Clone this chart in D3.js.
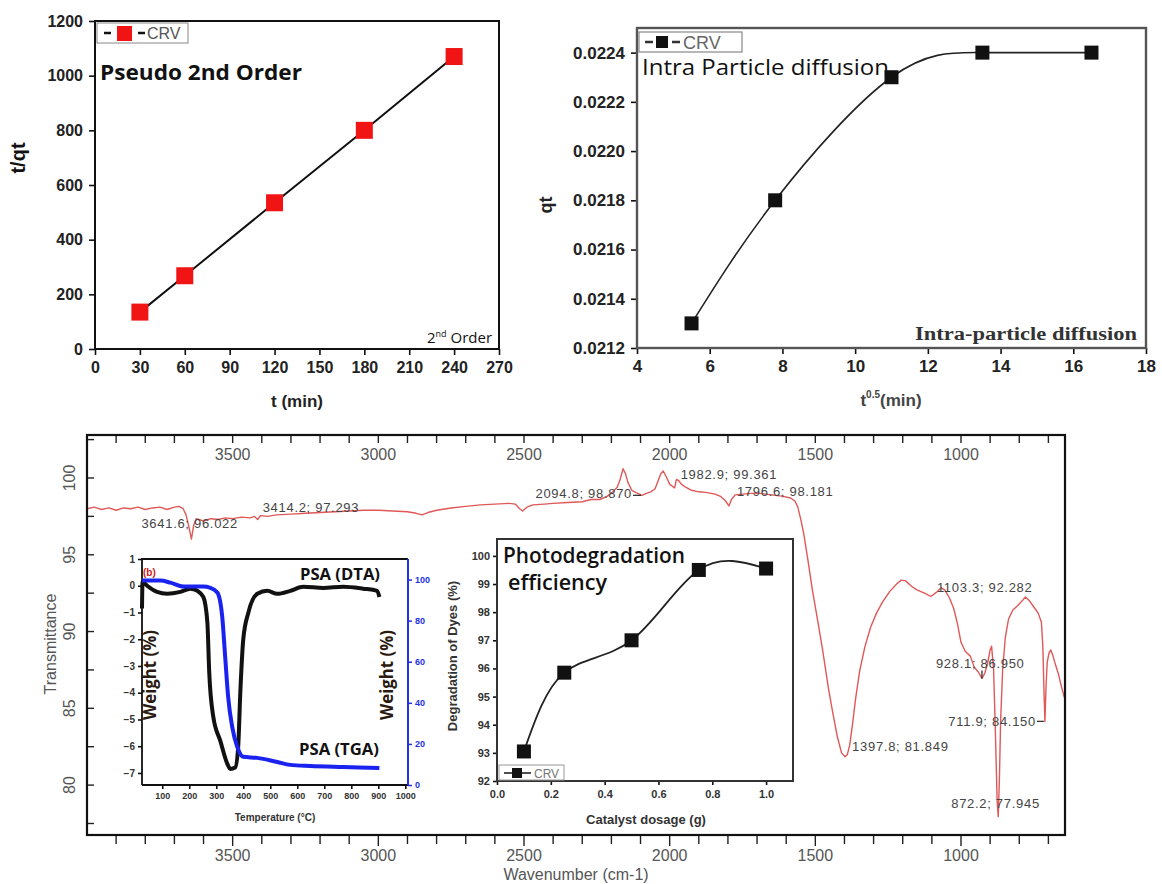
<!DOCTYPE html>
<html>
<head>
<meta charset="utf-8">
<script src="https://cdn.jsdelivr.net/npm/d3@7/dist/d3.min.js"></script>
<style>
  html, body { margin: 0; padding: 0; background: #fff; }
  svg { display: block; }
</style>
</head>
<body>
<svg id="fig" width="1162" height="884"></svg>
<script>
// ---------- data ----------
// Pseudo second-order kinetics
const kinTime = [30, 60, 120, 180, 240];
const kinTq = [135, 268, 535, 800, 1070];
const kinXTicks = [0, 30, 60, 90, 120, 150, 180, 210, 240, 270];
const kinYTicks = [0, 200, 400, 600, 800, 1000, 1200];

// Intra-particle diffusion
const ipdRootT = [5.5, 7.8, 11.0, 13.5, 16.5];
const ipdQt = [0.0213, 0.0218, 0.0223, 0.0224, 0.0224];
const ipdXTicks = [4, 6, 8, 10, 12, 14, 16, 18];
const ipdYTicks = [0.0212, 0.0214, 0.0216, 0.0218, 0.0220, 0.0222, 0.0224];

// FTIR spectrum (wavenumber cm-1, transmittance %)
const ftirWave = [4000,3975,3950,3925,3900,3875,3850,3825,3800,3775,3750,3725,3700,3685,3670,3660,3650,3641.6,3634,3625,3600,3575,3550,3525,3500,3470,3440,3425,3414.2,3405,3380,3350,3300,3250,3200,3150,3100,3050,3000,2950,2900,2870,2850,2830,2800,2750,2700,2650,2600,2550,2530,2515,2505,2490,2470,2430,2400,2350,2300,2270,2240,2215,2195,2180,2170,2160,2152,2143,2130,2115,2094.8,2080,2065,2050,2040,2030,2022,2012,2000,1990,1982.9,1977,1970,1960,1945,1925,1900,1870,1845,1825,1810,1796.6,1788,1775,1750,1720,1690,1650,1610,1585,1570,1560,1550,1540,1525,1510,1490,1475,1455,1440,1425,1410,1397.8,1390,1382,1372,1362,1348,1330,1310,1290,1270,1245,1221,1205,1190,1170,1150,1125,1103.3,1085,1068,1055,1040,1025,1012,1000,985,968,955,940,928.1,918,908,900,895,888,882,876,872.2,868,864,857,848,837,822,805,790,779,765,750,735,724,719,715,711.9,708,704,698,692,684,675,665,655,645];
const ftirTrans = [98.0,98.1,97.95,98.05,97.9,98.05,98.0,98.1,97.95,98.05,98.1,97.95,98.1,98.15,98.0,97.6,96.8,96.022,96.9,97.35,97.2,97.35,97.3,97.4,97.35,97.45,97.4,97.5,97.293,97.55,97.5,97.6,97.65,97.7,97.75,97.8,97.85,97.9,97.9,97.85,97.8,97.7,97.6,97.75,97.9,98.05,98.15,98.25,98.3,98.35,98.3,98.0,97.85,98.1,98.25,98.3,98.35,98.4,98.45,98.6,98.6,98.8,99.1,99.4,99.9,100.6,100.3,99.7,99.2,99.05,98.87,99.0,99.1,99.3,99.8,100.3,100.45,100.1,99.6,99.45,99.361,99.9,99.85,99.6,99.4,99.2,99.1,99.05,98.95,98.8,98.55,98.181,98.6,98.9,98.95,99.0,99.0,98.9,98.8,98.7,98.5,98.1,97.3,96.4,94.6,92.7,90.5,88.8,86.3,84.7,83.2,82.1,81.849,82.0,82.6,84.0,85.6,87.4,89.0,90.3,91.2,91.9,92.6,93.1,93.35,93.3,92.95,92.7,92.5,92.282,92.55,92.85,92.7,92.2,91.5,90.5,89.3,88.7,88.4,87.7,87.35,86.95,87.3,88.0,88.8,89.05,87.5,83.5,79.0,77.945,80.5,84.2,87.5,89.6,90.8,91.4,91.7,92.0,92.25,92.0,91.6,91.2,90.6,89.0,86.0,84.15,86.5,88.0,88.6,88.8,88.4,87.8,87.2,86.4,85.7];
const ftirPeakWave = [3641.6, 3414.2, 2094.8, 1982.9, 1796.6, 1397.8, 1103.3, 928.1, 711.9, 872.2];
const ftirPeakTrans = [96.022, 97.293, 98.870, 99.361, 98.181, 81.849, 92.282, 86.950, 84.150, 77.945];
const ftirXLabels = [3500, 3000, 2500, 2000, 1500, 1000];
const ftirYLabels = [80, 85, 90, 95, 100];

// Thermal analysis of PSA
const dtaTemp = [25, 27, 44, 81, 118, 167, 204, 230, 252, 267, 274, 289, 315, 341, 352, 370, 381, 389, 400, 419, 452, 489, 526, 574, 622, 696, 770, 844, 896, 904];
const dtaSignal = [-0.85, 0.15, 0.0, -0.23, -0.3, -0.23, -0.11, -0.19, -0.42, -1.36, -3.25, -4.9, -5.8, -6.66, -6.85, -6.8, -6.05, -4.0, -2.0, -1.0, -0.3, -0.19, -0.3, -0.19, -0.04, -0.08, -0.04, -0.11, -0.19, -0.42];
const tgaTemp = [25, 93, 130, 178, 252, 278, 304, 322, 333, 344, 359, 378, 400, 452, 526, 574, 648, 770, 904];
const tgaWeight = [99.5, 99.5, 98.5, 96.6, 96.6, 96.0, 93.7, 82.0, 62.4, 42.9, 28.3, 18.5, 13.7, 13.2, 11.2, 9.8, 9.3, 8.8, 8.3];
const thermTempTicks = [100, 200, 300, 400, 500, 600, 700, 800, 900, 1000];
const dtaTicks = [1, 0, -1, -2, -3, -4, -5, -6, -7];
const tgaTicks = [0, 20, 40, 60, 80, 100];

// Photodegradation vs catalyst dosage
const dosage = [0.1, 0.25, 0.5, 0.75, 1.0];
const degradation = [93.05, 95.85, 97.0, 99.5, 99.55];
const dosageTicks = [0.0, 0.2, 0.4, 0.6, 0.8, 1.0];
const degTicks = [92, 93, 94, 95, 96, 97, 98, 99, 100];

// ---------- styling ----------
const ARIAL = "'Liberation Sans', Arial, Helvetica, sans-serif";
const CALIBRI = "'Open Sans', Lato, sans-serif";
const SERIF = "'Liberation Serif', 'DejaVu Serif', serif";

const svg = d3.select('#fig');

function frame(g, b, stroke, width) {
  g.append('rect')
    .attr('x', b.x0).attr('y', b.y0)
    .attr('width', b.x1 - b.x0).attr('height', b.y1 - b.y0)
    .attr('fill', 'none').attr('stroke', stroke).attr('stroke-width', width);
}

function styleAxis(sel, font, size, weight, color) {
  sel.select('.domain').remove();
  sel.selectAll('.tick line').attr('stroke', '#111').attr('stroke-width', 1.6);
  sel.selectAll('.tick text')
    .attr('font-family', font).attr('font-size', size)
    .attr('font-weight', weight).attr('fill', color);
}

// ---------- FTIR spectrum (background panel) ----------
(function ftirPanel() {
  const b = { x0: 87, x1: 1065, y0: 435, y1: 835 };
  const g = svg.append('g');
  const x = d3.scaleLinear().domain([4000, 643]).range([b.x0, b.x1]);
  const y = d3.scaleLinear().domain([76.75, 102.8]).range([b.y1, b.y0]);

  const minor = d3.range(700, 4000, 100);
  // top ticks point into the plot, bottom ticks point out
  g.selectAll('.tt').data(minor).enter().append('line')
    .attr('x1', d => x(d)).attr('x2', d => x(d))
    .attr('y1', b.y0).attr('y2', b.y0 + 8)
    .attr('stroke', '#222').attr('stroke-width', 1.4);
  g.selectAll('.bt').data(minor).enter().append('line')
    .attr('x1', d => x(d)).attr('x2', d => x(d))
    .attr('y1', b.y1).attr('y2', d => b.y1 + (ftirXLabels.includes(d) ? 11 : 9))
    .attr('stroke', '#222').attr('stroke-width', 1.4);
  const yMinor = d3.range(77.5, 102.6, 2.5);
  g.selectAll('.lt').data(yMinor).enter().append('line')
    .attr('x1', b.x0).attr('x2', b.x0 + 7)
    .attr('y1', d => y(d)).attr('y2', d => y(d))
    .attr('stroke', '#222').attr('stroke-width', 1.4);

  const lblStyle = s => s.attr('font-family', ARIAL).attr('font-size', 16).attr('fill', '#555');
  g.selectAll('.tl').data(ftirXLabels).enter().append('text')
    .attr('x', d => x(d)).attr('y', 460).attr('text-anchor', 'middle')
    .text(d => d).call(lblStyle);
  g.selectAll('.bl').data(ftirXLabels).enter().append('text')
    .attr('x', d => x(d)).attr('y', 861).attr('text-anchor', 'middle')
    .text(d => d).call(lblStyle);
  g.selectAll('.yl').data(ftirYLabels).enter().append('text')
    .attr('transform', d => `translate(75,${y(d)}) rotate(-90)`)
    .attr('text-anchor', 'middle').text(d => d).call(lblStyle);

  g.append('text').attr('x', 576).attr('y', 880).attr('text-anchor', 'middle')
    .text('Wavenumber (cm-1)').call(lblStyle);
  g.append('text').attr('transform', `translate(56,644) rotate(-90)`)
    .attr('text-anchor', 'middle').text('Transmittance').call(lblStyle);

  const pts = ftirWave.map((w, i) => [w, ftirTrans[i]]);
  g.append('path').datum(pts)
    .attr('d', d3.line().x(d => x(d[0])).y(d => y(d[1])))
    .attr('fill', 'none').attr('stroke', '#e05858').attr('stroke-width', 1.4)
    .attr('stroke-linejoin', 'round');

  // peak labels: offset from the peak point, anchor, optional leader dash
  const peakLayout = [
    { dx: -50, dy: -11, anchor: 'start' },
    { dx: 5, dy: -8, anchor: 'start' },
    { dx: -10, dy: 3, anchor: 'end', dash: true },
    { dx: 6, dy: -9, anchor: 'start' },
    { dx: 8, dy: -10, anchor: 'start' },
    { dx: 7, dy: -6, anchor: 'start' },
    { dx: 6, dy: -5, anchor: 'start' },
    { dx: -46, dy: -10, anchor: 'start', tick: true },
    { dx: -9, dy: 5, anchor: 'end', dash: true },
    { dx: -47, dy: -9, anchor: 'start' }
  ];
  ftirPeakWave.forEach((w, i) => {
    const px = x(w), py = y(ftirPeakTrans[i]), L = peakLayout[i];
    g.append('text').attr('x', px + L.dx).attr('y', py + L.dy)
      .attr('text-anchor', L.anchor)
      .attr('font-family', ARIAL).attr('font-size', 13).attr('letter-spacing', 0.7)
      .attr('fill', '#444').text(`${w.toFixed(1)}; ${ftirPeakTrans[i].toFixed(3)}`);
    if (L.dash) {
      g.append('line').attr('x1', px + L.dx + 1).attr('x2', px - 1)
        .attr('y1', py).attr('y2', py).attr('stroke', '#333').attr('stroke-width', 1.3);
    }
    if (L.tick) {
      g.append('line').attr('x1', px).attr('x2', px)
        .attr('y1', py - 8).attr('y2', py).attr('stroke', '#333').attr('stroke-width', 1.3);
    }
  });

  frame(g, b, '#111', 2.2);
})();

// ---------- Pseudo second order ----------
(function kineticsPanel() {
  const b = { x0: 95, x1: 499, y0: 21, y1: 349 };
  const g = svg.append('g');
  const x = d3.scaleLinear().domain([0, 270]).range([b.x0, b.x1]);
  const y = d3.scaleLinear().domain([0, 1200]).range([b.y1, b.y0]);

  g.append('g').attr('transform', `translate(0,${b.y1})`)
    .call(d3.axisBottom(x).tickValues(kinXTicks).tickFormat(d3.format('d')).tickSize(6).tickPadding(7))
    .call(s => styleAxis(s, ARIAL, 16, 'bold', '#222'));
  g.append('g').attr('transform', `translate(${b.x0},0)`)
    .call(d3.axisLeft(y).tickValues(kinYTicks).tickFormat(d3.format('d')).tickSize(6).tickPadding(6))
    .call(s => styleAxis(s, ARIAL, 16, 'bold', '#222'));
  frame(g, b, '#111', 2);

  const pts = kinTime.map((t, i) => [t, kinTq[i]]);
  g.append('path').datum(pts)
    .attr('d', d3.line().x(d => x(d[0])).y(d => y(d[1])))
    .attr('fill', 'none').attr('stroke', '#111').attr('stroke-width', 2);
  g.selectAll('.m').data(pts).enter().append('rect')
    .attr('x', d => x(d[0]) - 8.5).attr('y', d => y(d[1]) - 8.5)
    .attr('width', 17).attr('height', 17).attr('fill', '#f01414');

  g.append('text').attr('transform', 'translate(25,158) rotate(-90)')
    .attr('text-anchor', 'middle').attr('font-family', ARIAL)
    .attr('font-size', 20).attr('font-weight', 'bold').attr('fill', '#111').text('t/qt');
  g.append('text').attr('x', 297).attr('y', 407).attr('text-anchor', 'middle')
    .attr('font-family', ARIAL).attr('font-size', 17).attr('font-weight', 'bold')
    .attr('fill', '#222').text('t (min)');

  // legend
  g.append('rect').attr('x', 97).attr('y', 23).attr('width', 91).attr('height', 20)
    .attr('fill', '#fff').attr('stroke', '#888').attr('stroke-width', 1);
  g.append('line').attr('x1', 104).attr('x2', 111).attr('y1', 33).attr('y2', 33)
    .attr('stroke', '#111').attr('stroke-width', 2.5);
  g.append('rect').attr('x', 117).attr('y', 26).attr('width', 15).attr('height', 15).attr('fill', '#f01414');
  g.append('line').attr('x1', 138).attr('x2', 145).attr('y1', 33).attr('y2', 33)
    .attr('stroke', '#111').attr('stroke-width', 2.5);
  g.append('text').attr('x', 147).attr('y', 39).attr('font-family', ARIAL)
    .attr('font-size', 16).attr('fill', '#555').text('CRV');

  g.append('text').attr('x', 100).attr('y', 80).attr('font-family', CALIBRI)
    .attr('font-size', 22).attr('font-weight', 'bold').attr('fill', '#111')
    .attr('textLength', 202).attr('lengthAdjust', 'spacingAndGlyphs').text('Pseudo 2nd Order');
  const o = g.append('text').attr('x', 427).attr('y', 343).attr('font-family', CALIBRI)
    .attr('font-size', 15).attr('fill', '#111');
  o.append('tspan').text('2');
  o.append('tspan').attr('font-size', 9).attr('dy', -6).text('nd');
  o.append('tspan').attr('dy', 6).text(' Order');
})();

// ---------- Intra-particle diffusion ----------
(function diffusionPanel() {
  const b = { x0: 637, x1: 1146, y0: 28, y1: 348 };
  const g = svg.append('g');
  const x = d3.scaleLinear().domain([4, 18]).range([b.x0, b.x1]);
  const y = d3.scaleLinear().domain([0.0212, 0.02250]).range([b.y1, b.y0]);

  g.append('g').attr('transform', `translate(0,${b.y1})`)
    .call(d3.axisBottom(x).tickValues(ipdXTicks).tickSize(6).tickPadding(6))
    .call(s => styleAxis(s, ARIAL, 17, 'bold', '#222'));
  g.append('g').attr('transform', `translate(${b.x0},0)`)
    .call(d3.axisLeft(y).tickValues(ipdYTicks).tickFormat(d3.format('.4f')).tickSize(6).tickPadding(6))
    .call(s => styleAxis(s, ARIAL, 17, 'bold', '#222'));
  frame(g, b, '#555', 2.4);

  const pts = ipdRootT.map((t, i) => [t, ipdQt[i]]);
  g.append('path').datum(pts)
    .attr('d', d3.line().curve(d3.curveNatural).x(d => x(d[0])).y(d => y(d[1])))
    .attr('fill', 'none').attr('stroke', '#222').attr('stroke-width', 1.6);
  g.selectAll('.m').data(pts).enter().append('rect')
    .attr('x', d => x(d[0]) - 7).attr('y', d => y(d[1]) - 7)
    .attr('width', 14).attr('height', 14).attr('fill', '#111');

  g.append('text').attr('transform', 'translate(552,205) rotate(-90)')
    .attr('text-anchor', 'middle').attr('font-family', ARIAL)
    .attr('font-size', 18).attr('font-weight', 'bold').attr('fill', '#222').text('qt');
  const xl = g.append('text').attr('x', 891).attr('y', 406).attr('text-anchor', 'middle')
    .attr('font-family', ARIAL).attr('font-size', 17).attr('font-weight', 'bold').attr('fill', '#444');
  xl.append('tspan').text('t');
  xl.append('tspan').attr('font-size', 10).attr('dy', -8).text('0.5');
  xl.append('tspan').attr('dy', 8).text('(min)');

  // legend
  g.append('rect').attr('x', 639).attr('y', 32).attr('width', 103).attr('height', 20)
    .attr('fill', '#fff').attr('stroke', '#888').attr('stroke-width', 1.2);
  g.append('line').attr('x1', 645).attr('x2', 653).attr('y1', 42).attr('y2', 42)
    .attr('stroke', '#333').attr('stroke-width', 2.5);
  g.append('rect').attr('x', 656).attr('y', 36).attr('width', 12).attr('height', 12).attr('fill', '#111');
  g.append('line').attr('x1', 672).attr('x2', 680).attr('y1', 42).attr('y2', 42)
    .attr('stroke', '#333').attr('stroke-width', 2.5);
  g.append('text').attr('x', 683).attr('y', 49).attr('font-family', ARIAL)
    .attr('font-size', 18).attr('fill', '#666').text('CRV');

  g.append('text').attr('x', 642).attr('y', 75).attr('font-family', CALIBRI)
    .attr('font-size', 22).attr('font-weight', 500).attr('fill', '#111')
    .attr('textLength', 247).attr('lengthAdjust', 'spacingAndGlyphs')
    .text('Intra Particle diffusion');
  g.append('text').attr('x', 915).attr('y', 340).attr('font-family', SERIF)
    .attr('font-size', 18).attr('font-weight', 'bold').attr('fill', '#333')
    .attr('textLength', 222).attr('lengthAdjust', 'spacingAndGlyphs').text('Intra-particle diffusion');
})();

// ---------- DTA / TGA inset ----------
(function thermalInset() {
  const b = { x0: 142, x1: 408, y0: 559, y1: 785 };
  const g = svg.append('g');
  g.append('rect').attr('x', b.x0).attr('y', b.y0).attr('width', b.x1 - b.x0)
    .attr('height', b.y1 - b.y0).attr('fill', '#fff');
  const x = d3.scaleLinear().domain([25, 1010]).range([b.x0, b.x1]);
  const yL = d3.scaleLinear().domain([-7.45, 1]).range([b.y1, b.y0]);
  const yR = d3.scaleLinear().domain([0, 110]).range([b.y1, b.y0]);

  g.append('g').attr('transform', `translate(0,${b.y1})`)
    .call(d3.axisBottom(x).tickValues(thermTempTicks).tickFormat(d3.format('d')).tickSize(4).tickPadding(4))
    .call(s => styleAxis(s, ARIAL, 9, 'bold', '#333'));
  g.append('g').attr('transform', `translate(${b.x0},0)`)
    .call(d3.axisLeft(yL).tickValues(dtaTicks).tickFormat(d3.format('d')).tickSize(4).tickPadding(3))
    .call(s => styleAxis(s, ARIAL, 10, 'bold', '#333'));
  const ra = g.append('g').attr('transform', `translate(${b.x1},0)`)
    .call(d3.axisRight(yR).tickValues(tgaTicks).tickSize(4).tickPadding(3));
  ra.select('.domain').remove();
  ra.selectAll('.tick line').attr('stroke', '#2430e8').attr('stroke-width', 1.5);
  ra.selectAll('.tick text').attr('font-family', ARIAL).attr('font-size', 9)
    .attr('font-weight', 'bold').attr('fill', '#2430e8');

  g.append('path').attr('d', `M${b.x0},${b.y1}V${b.y0}H${b.x1}M${b.x0},${b.y1}H${b.x1}`)
    .attr('fill', 'none').attr('stroke', '#111').attr('stroke-width', 1.8);
  g.append('line').attr('x1', b.x1).attr('x2', b.x1).attr('y1', b.y0).attr('y2', b.y1)
    .attr('stroke', '#2430e8').attr('stroke-width', 2);

  g.append('path').datum(dtaTemp.map((t, i) => [t, dtaSignal[i]]))
    .attr('d', d3.line().curve(d3.curveMonotoneX).x(d => x(d[0])).y(d => yL(d[1])))
    .attr('fill', 'none').attr('stroke', '#111').attr('stroke-width', 4).attr('stroke-linejoin', 'round');
  g.append('path').datum(tgaTemp.map((t, i) => [t, tgaWeight[i]]))
    .attr('d', d3.line().curve(d3.curveMonotoneX).x(d => x(d[0])).y(d => yR(d[1])))
    .attr('fill', 'none').attr('stroke', '#1a22f0').attr('stroke-width', 4).attr('stroke-linejoin', 'round');

  const lab = (t, xx, yy) => g.append('text').attr('x', xx).attr('y', yy)
    .attr('font-family', CALIBRI).attr('font-size', 16).attr('font-weight', 'bold')
    .attr('fill', '#111').attr('textLength', 80).attr('lengthAdjust', 'spacingAndGlyphs').text(t);
  lab('PSA (DTA)', 300, 580);
  lab('PSA (TGA)', 299, 755);
  [156, 393].forEach(cx => g.append('text')
    .attr('transform', `translate(${cx},675) rotate(-90)`).attr('text-anchor', 'middle')
    .attr('font-family', CALIBRI).attr('font-size', 17).attr('font-weight', 'bold')
    .attr('fill', '#2a1a10').attr('textLength', 90).attr('lengthAdjust', 'spacingAndGlyphs').text('Weight (%)'));
  g.append('text').attr('x', 143).attr('y', 576).attr('font-family', ARIAL)
    .attr('font-size', 10).attr('font-weight', 'bold').attr('fill', '#d02020').text('(b)');
  g.append('text').attr('x', 275).attr('y', 821).attr('text-anchor', 'middle')
    .attr('font-family', ARIAL).attr('font-size', 10).attr('font-weight', 'bold')
    .attr('fill', '#333').text('Temperature (°C)');
})();

// ---------- Photodegradation inset ----------
(function photoInset() {
  const b = { x0: 497, x1: 793, y0: 539, y1: 781 };
  const g = svg.append('g');
  g.append('rect').attr('x', b.x0).attr('y', b.y0).attr('width', b.x1 - b.x0)
    .attr('height', b.y1 - b.y0).attr('fill', '#fff');
  const x = d3.scaleLinear().domain([0, 1.1]).range([b.x0, b.x1]);
  const y = d3.scaleLinear().domain([92, 100.6]).range([b.y1, b.y0]);

  g.append('g').attr('transform', `translate(0,${b.y1})`)
    .call(d3.axisBottom(x).tickValues(dosageTicks).tickFormat(d3.format('.1f')).tickSize(4).tickPadding(5))
    .call(s => styleAxis(s, ARIAL, 11, 'bold', '#333'));
  g.append('g').attr('transform', `translate(${b.x0},0)`)
    .call(d3.axisLeft(y).tickValues(degTicks).tickSize(4).tickPadding(3))
    .call(s => styleAxis(s, ARIAL, 11, 'bold', '#333'));
  frame(g, b, '#333', 2);

  const pts = dosage.map((d, i) => [d, degradation[i]]);
  g.append('path').datum(pts)
    .attr('d', d3.line().curve(d3.curveNatural).x(d => x(d[0])).y(d => y(d[1])))
    .attr('fill', 'none').attr('stroke', '#222').attr('stroke-width', 1.8);
  g.selectAll('.m').data(pts).enter().append('rect')
    .attr('x', d => x(d[0]) - 7).attr('y', d => y(d[1]) - 7)
    .attr('width', 14).attr('height', 14).attr('fill', '#111');

  g.append('text').attr('x', 503).attr('y', 563).attr('font-family', CALIBRI)
    .attr('font-size', 22).attr('font-weight', 600).attr('fill', '#111')
    .attr('textLength', 182).attr('lengthAdjust', 'spacingAndGlyphs').text('Photodegradation');
  g.append('text').attr('x', 508).attr('y', 590).attr('font-family', CALIBRI)
    .attr('font-size', 22).attr('font-weight', 600).attr('fill', '#111')
    .attr('textLength', 99).attr('lengthAdjust', 'spacingAndGlyphs').text('efficiency');

  g.append('text').attr('transform', 'translate(457,656) rotate(-90)').attr('text-anchor', 'middle')
    .attr('font-family', ARIAL).attr('font-size', 13).attr('font-weight', 'bold')
    .attr('fill', '#333').text('Degradation of Dyes (%)');
  g.append('text').attr('x', 646).attr('y', 824).attr('text-anchor', 'middle')
    .attr('font-family', ARIAL).attr('font-size', 13).attr('font-weight', 'bold')
    .attr('fill', '#333').text('Catalyst dosage (g)');

  // legend
  g.append('rect').attr('x', 499).attr('y', 765).attr('width', 65).attr('height', 15)
    .attr('fill', '#fff').attr('stroke', '#999').attr('stroke-width', 1);
  g.append('line').attr('x1', 504).attr('x2', 531).attr('y1', 773).attr('y2', 773)
    .attr('stroke', '#222').attr('stroke-width', 1.6);
  g.append('rect').attr('x', 512).attr('y', 768).attr('width', 10).attr('height', 10).attr('fill', '#111');
  g.append('text').attr('x', 534).attr('y', 778).attr('font-family', ARIAL)
    .attr('font-size', 12).attr('fill', '#777').text('CRV');
})();
</script>
</body>
</html>
